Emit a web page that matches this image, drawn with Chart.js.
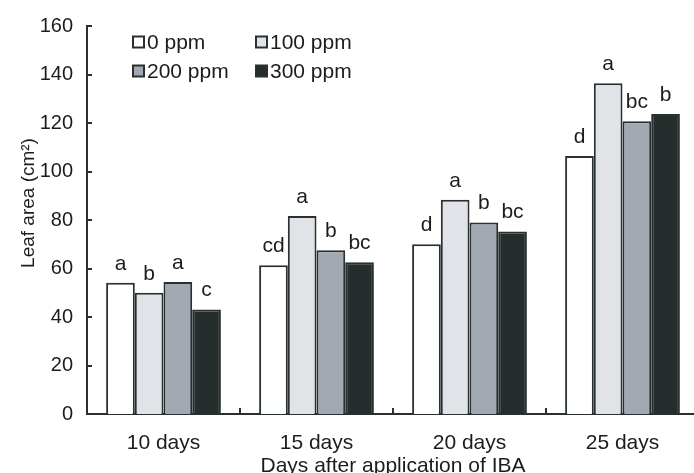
<!DOCTYPE html>
<html>
<head>
<meta charset="utf-8">
<script src="https://cdn.jsdelivr.net/npm/chart.js@4.4.1/dist/chart.umd.min.js"></script>
<style>
    html, body { margin: 0; padding: 0; background: #ffffff; overflow: hidden; }
    #wrap { position: relative; width: 700px; height: 473px; }
</style>
</head>
<body>
<div id="wrap"><canvas id="leaf-chart"></canvas></div>
<script>
// Chart data
const categories = ['10 days', '15 days', '20 days', '25 days'];
const seriesNames = ['0 ppm', '100 ppm', '200 ppm', '300 ppm'];
const ppm0 = [54.1, 61.3, 70.0, 106.4];
const ppm100 = [50.0, 81.7, 88.4, 136.4];
const ppm200 = [54.4, 67.5, 79.0, 120.7];
const ppm300 = [43.1, 62.6, 75.3, 123.7];
const letters0 = ['a', 'cd', 'd', 'd'];
const letters100 = ['b', 'a', 'a', 'a'];
const letters200 = ['a', 'b', 'b', 'bc'];
const letters300 = ['c', 'bc', 'bc', 'b'];
const yTicks = [0, 20, 40, 60, 80, 100, 120, 140, 160];

const FONT = '"Liberation Sans", Arial, sans-serif';
const INK = '#283030';
const TEXT = '#1c1c1c';
const fills = ['#ffffff', '#e2e3e8', '#a3a9b2', '#262e2d'];

/**
 * Letters above bars, inside ticks, axis titles and the 2x2 legend
 */
const decorations = {
    id: 'decorations',
    afterDatasetsDraw(chart) {
        const ctx = chart.ctx;
        const area = chart.chartArea;
        const x = chart.scales.x;
        const y = chart.scales.y;
        ctx.save();

        // Significance letters
        ctx.fillStyle = TEXT;
        ctx.font = '21px ' + FONT;
        ctx.textAlign = 'center';
        ctx.textBaseline = 'alphabetic';
        chart.data.datasets.forEach((ds, i) => {
            const meta = chart.getDatasetMeta(i);
            meta.data.forEach((bar, j) => {
                ctx.fillText(ds.letters[j], bar.x, bar.y - 13);
            });
        });

        // Inside ticks
        ctx.strokeStyle = INK;
        ctx.lineWidth = 2;
        ctx.beginPath();
        yTicks.forEach(v => {
            const py = Math.round(y.getPixelForValue(v));
            ctx.moveTo(area.left, py);
            ctx.lineTo(area.left + 5, py);
        });
        for (let k = 1; k < categories.length; k++) {
            const px = Math.round((x.getPixelForValue(k - 1) + x.getPixelForValue(k)) / 2);
            ctx.moveTo(px, area.bottom);
            ctx.lineTo(px, area.bottom - 6);
        }
        ctx.stroke();

        // Axis titles
        ctx.fillStyle = TEXT;
        ctx.font = '21px ' + FONT;
        ctx.textAlign = 'center';
        ctx.fillText('Days after application of IBA', 393, 472);
        ctx.save();
        ctx.translate(34, 203);
        ctx.rotate(-Math.PI / 2);
        ctx.font = '19px ' + FONT;
        ctx.fillText('Leaf area (cm\u00B2)', 0, 0);
        ctx.restore();

        // Legend
        const cols = [133, 256];
        const rows = [42, 71];
        ctx.font = '21px ' + FONT;
        ctx.textAlign = 'left';
        ctx.textBaseline = 'middle';
        chart.data.datasets.forEach((ds, i) => {
            const bx = cols[i % 2];
            const by = rows[Math.floor(i / 2)];
            ctx.fillStyle = ds.backgroundColor;
            ctx.fillRect(bx, by - 5.5, 11, 11);
            ctx.lineWidth = 2;
            ctx.strokeStyle = INK;
            ctx.strokeRect(bx, by - 5.5, 11, 11);
            ctx.fillStyle = TEXT;
            ctx.fillText(ds.label, bx + 14, by + 1);
        });

        ctx.restore();
    }
};

function makeDataset(i, values, letters) {
    return {
        label: seriesNames[i],
        data: values,
        letters: letters,
        backgroundColor: fills[i],
        borderColor: INK,
        borderWidth: 2,
        borderSkipped: 'bottom'
    };
}

new Chart(document.getElementById('leaf-chart'), {
    type: 'bar',
    data: {
        labels: categories,
        datasets: [
            makeDataset(0, ppm0, letters0),
            makeDataset(1, ppm100, letters100),
            makeDataset(2, ppm200, letters200),
            makeDataset(3, ppm300, letters300)
        ]
    },
    options: {
        responsive: true,
        maintainAspectRatio: false,
        animation: false,
        categoryPercentage: 0.75,
        barPercentage: 1.0,
        layout: { padding: { top: 23, right: 1, left: 0, bottom: 0 } },
        plugins: {
            legend: { display: false },
            tooltip: { enabled: false }
        },
        scales: {
            x: {
                grid: { display: false, drawTicks: false },
                border: { display: true, color: INK, width: 2 },
                ticks: {
                    color: TEXT,
                    font: { family: FONT, size: 21 },
                    padding: 17,
                    maxRotation: 0
                },
                afterFit: s => { s.height = 59; }
            },
            y: {
                min: 0,
                max: 160,
                grid: { display: false, drawTicks: false },
                border: { display: true, color: INK, width: 2 },
                ticks: {
                    stepSize: 20,
                    color: TEXT,
                    font: { family: FONT, size: 20 },
                    padding: 14
                },
                afterFit: s => { s.width = 87; }
            }
        }
    },
    plugins: [decorations]
});
</script>
</body>
</html>
